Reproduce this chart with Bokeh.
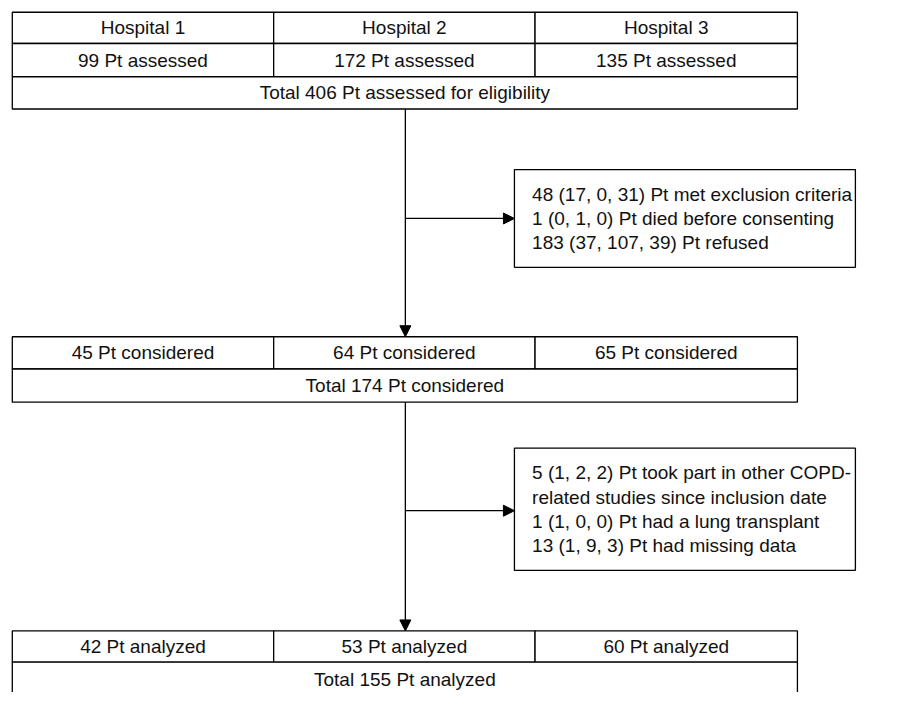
from bokeh.plotting import figure
from bokeh.models import Range1d, Arrow, NormalHead
from bokeh.core.properties import value
from bokeh.embed import file_html
from bokeh.resources import INLINE

# ---- data ----
hospitals = ["Hospital 1", "Hospital 2", "Hospital 3"]
assessed = [99, 172, 135]
considered = [45, 64, 65]
analyzed = [42, 53, 60]
excl_criteria = [17, 0, 31]
died_before_consent = [0, 1, 0]
refused = [37, 107, 39]
other_studies = [1, 2, 2]
lung_transplant = [1, 0, 0]
missing_data = [1, 9, 3]

def fmt(vals):
    return f"{sum(vals)} ({', '.join(str(v) for v in vals)})"

stage1_excl = [
    f"{fmt(excl_criteria)} Pt met exclusion criteria",
    f"{fmt(died_before_consent)} Pt died before consenting",
    f"{fmt(refused)} Pt refused",
]
stage2_excl = [
    f"{fmt(other_studies)} Pt took part in other COPD-",
    "related studies since inclusion date",
    f"{fmt(lung_transplant)} Pt had a lung transplant",
    f"{fmt(missing_data)} Pt had missing data",
]

# ---- layout (reference-frame coordinates, 922 x 708) ----
FONT = value("Liberation Sans")
FS = "19px"
LC = "#000000"
LW = 1.3
TC = "#111111"

p = figure(width=906, height=692, output_backend="svg", toolbar_location=None,
           x_range=Range1d(0, 922), y_range=Range1d(708, 0), min_border=0)
p.axis.visible = False
p.grid.visible = False
p.outline_line_color = None
p.background_fill_color = "white"
p.border_fill_color = "white"

cols = [12, 278, 544, 811]
cx = [(cols[i] + cols[i + 1]) / 2 for i in range(3)]

def cells(rows, per_col_texts, total_text):
    lefts, rights, tops, bottoms, tx, ty, tt = [], [], [], [], [], [], []
    for r, texts in enumerate(per_col_texts):
        for i in range(3):
            lefts.append(cols[i]); rights.append(cols[i + 1])
            tops.append(rows[r]); bottoms.append(rows[r + 1])
            tx.append(cx[i]); ty.append((rows[r] + rows[r + 1]) / 2); tt.append(texts[i])
    r = len(per_col_texts)
    lefts.append(cols[0]); rights.append(cols[3])
    tops.append(rows[r]); bottoms.append(rows[r + 1])
    tx.append((cols[0] + cols[3]) / 2); ty.append((rows[r] + rows[r + 1]) / 2); tt.append(total_text)
    p.quad(left=lefts, right=rights, top=tops, bottom=bottoms,
           fill_color="white", line_color=LC, line_width=LW)
    p.text(x=tx, y=ty, text=tt, text_align="center", text_baseline="middle",
           text_font=FONT, text_font_size=FS, text_color=TC)

cells([12, 44, 78, 111],
      [hospitals, [f"{v} Pt assessed" for v in assessed]],
      f"Total {sum(assessed)} Pt assessed for eligibility")
cells([344, 377, 411],
      [[f"{v} Pt considered" for v in considered]],
      f"Total {sum(considered)} Pt considered")
cells([645, 677, 712],
      [[f"{v} Pt analyzed" for v in analyzed]],
      f"Total {sum(analyzed)} Pt analyzed")

vx = 412
side_left, side_right = 523, 870

def head():
    return NormalHead(size=11, fill_color=LC, line_color=LC, line_width=1)

def side_box(top, bottom, lines, arrow_y):
    p.quad(left=[side_left], right=[side_right], top=[top], bottom=[bottom],
           fill_color="white", line_color=LC, line_width=LW)
    n = len(lines)
    mid = (top + bottom) / 2
    ys = [mid + (k - (n - 1) / 2) * 25 for k in range(n)]
    p.text(x=[side_left + 18] * n, y=ys, text=lines, text_align="left",
           text_baseline="middle", text_font=FONT, text_font_size=FS, text_color=TC)
    p.add_layout(Arrow(end=head(), x_start=vx, y_start=arrow_y, x_end=side_left, y_end=arrow_y,
                       line_color=LC, line_width=LW))

p.add_layout(Arrow(end=head(), x_start=vx, y_start=111, x_end=vx, y_end=344,
                   line_color=LC, line_width=LW))
p.add_layout(Arrow(end=head(), x_start=vx, y_start=411, x_end=vx, y_end=645,
                   line_color=LC, line_width=LW))

side_box(173, 273, stage1_excl, 223)
side_box(458, 583, stage2_excl, 522)

open("out.html", "w").write(file_html(p, INLINE))
